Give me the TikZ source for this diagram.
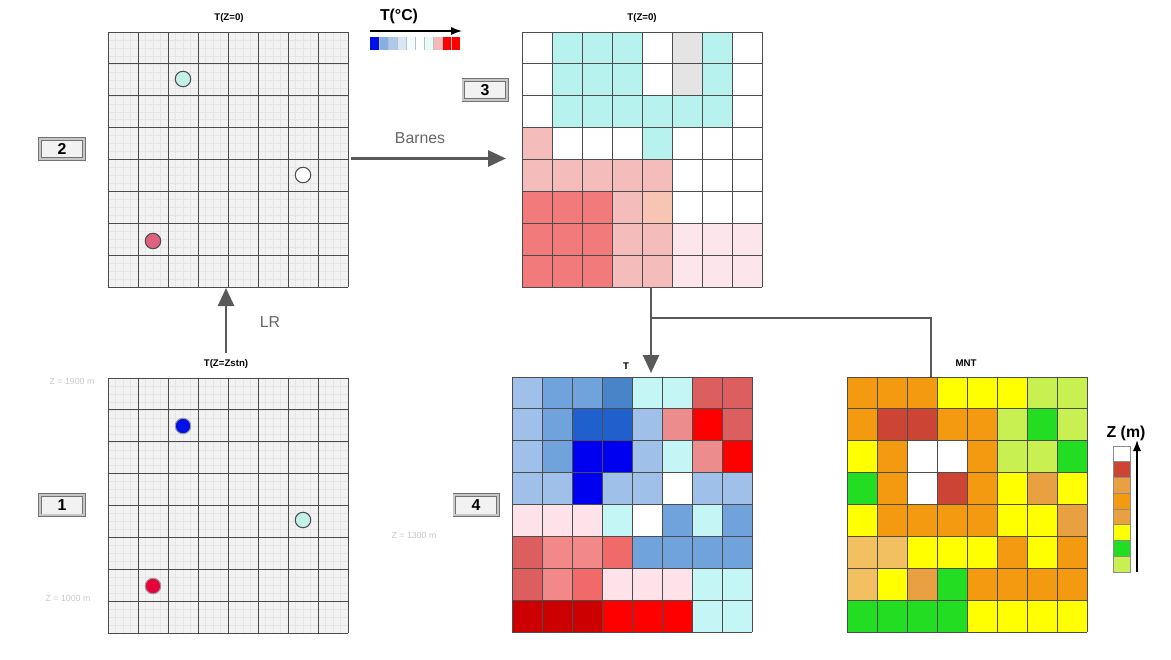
\documentclass[tikz,border=0pt]{standalone}
\usepackage{fontspec}
\setmainfont{Liberation Sans}
\usetikzlibrary{arrows.meta,calc}

% interpolated field T(Z=0)
\definecolor{tc}{HTML}{B8F2EE}
\definecolor{tg}{HTML}{E4E4E4}
\definecolor{tp}{HTML}{F5BCBC}
\definecolor{tq}{HTML}{F8C4B4}
\definecolor{tr}{HTML}{F27A7A}
\definecolor{tl}{HTML}{FCE6EC}
% field T at the DEM height
\definecolor{ka}{HTML}{9FC0E8}
\definecolor{kb}{HTML}{70A2DC}
\definecolor{kc}{HTML}{4A84C8}
\definecolor{kd}{HTML}{2060CC}
\definecolor{ke}{HTML}{0000F0}
\definecolor{kf}{HTML}{C4F6F6}
\definecolor{kg}{HTML}{DC5E5E}
\definecolor{kh}{HTML}{FF0000}
\definecolor{ki}{HTML}{EC8C8C}
\definecolor{kj}{HTML}{FDE2EA}
\definecolor{kk}{HTML}{F28888}
\definecolor{kl}{HTML}{CC0000}
\definecolor{km}{HTML}{F06A6A}
% MNT
\definecolor{mo}{HTML}{F39A10}
\definecolor{my}{HTML}{FFFF00}
\definecolor{mg}{HTML}{22DD22}
\definecolor{ml}{HTML}{C8F050}
\definecolor{md}{HTML}{CC4433}
\definecolor{mq}{HTML}{E8A040}
\definecolor{ms}{HTML}{F2C060}
% stations
\definecolor{sc}{HTML}{C4F0E6}
\definecolor{sp}{HTML}{E06080}
\definecolor{sb}{HTML}{0010E8}
\definecolor{sr}{HTML}{E8003A}

\newcommand\colgrid[2]{%
 \begin{scope}[shift={(#1.north west)}]
  \foreach \cl [count=\r from 0] in {#2}
   \foreach \k [count=\c from 0] in \cl
    \fill[\k] (\c*30,\r*31.875) rectangle ++(30,31.875);
  \foreach \i in {0,...,8}
   {\draw[cellline] (\i*30,0) -- (\i*30,255);
    \draw[cellline] (0,\i*31.875) -- (240,\i*31.875);}
 \end{scope}}

\newcommand\plaingrid[1]{%
 \begin{scope}[shift={(#1.north west)}]
  \fill[black!5] (0,0) rectangle (240,255);
  \foreach \i in {1,...,31}
   {\draw[subline] (\i*7.5,0) -- (\i*7.5,255);
    \draw[subline] (0,\i*7.96875) -- (240,\i*7.96875);}
  \foreach \i in {0,...,8}
   {\draw[cellline] (\i*30,0) -- (\i*30,255);
    \draw[cellline] (0,\i*31.875) -- (240,\i*31.875);}
 \end{scope}}

\begin{document}
\begin{tikzpicture}[x=0.2mm,y=-0.2mm,
 font=\small,
 gridbox/.style={minimum width=48mm,minimum height=51mm,inner sep=0pt,outer sep=0pt},
 cellline/.style={draw=black!70,line width=0.5pt},
 subline/.style={draw=black!10,line width=0.2pt},
 numbox/.style={draw=black!55,double=black!22,double distance=1.2pt,fill=black!5,
  minimum width=8.7mm,minimum height=4.1mm,inner sep=0pt,font=\bfseries\fontsize{9}{10}\selectfont},
 ttl/.style={font=\bfseries\fontsize{5.5}{6}\selectfont,inner sep=1pt},
 lbl/.style={text=black!60,font=\fontsize{9}{10}\selectfont},
 faint/.style={text=black!22,font=\fontsize{5}{6}\selectfont},
 stn/.style={circle,draw=black!70,line width=0.6pt,minimum size=3.1mm,inner sep=0pt},
 flow/.style={-{Triangle[length=3.6mm,width=3.2mm]},line width=1.6pt,draw=black!65},
 link/.style={line width=1.6pt,draw=black!65},
 keyarr/.style={-{Latex[length=2.2mm]},line width=0.9pt,black},
 keycell/.style={draw=black!45,line width=0.3pt}]
\useasboundingbox (0,0) rectangle (1171,659);

% grids
\node[gridbox,anchor=north west] (g2) at (108,32) {};
\node[gridbox,anchor=north west] (g1) at (108,378) {};
\node[gridbox,anchor=north west] (g3) at (522,32) {};
\node[gridbox,anchor=north west] (g4) at (512,377) {};
\node[gridbox,anchor=north west] (g5) at (847,377) {};
\plaingrid{g2}
\plaingrid{g1}
\colgrid{g3}{{white,tc,tc,tc,white,tg,tc,white},{white,tc,tc,tc,white,tg,tc,white},
 {white,tc,tc,tc,tc,tc,tc,white},{tp,white,white,white,tc,white,white,white},
 {tp,tp,tp,tp,tp,white,white,white},{tr,tr,tr,tp,tq,white,white,white},
 {tr,tr,tr,tp,tp,tl,tl,tl},{tr,tr,tr,tp,tp,tl,tl,tl}}
\colgrid{g4}{{ka,kb,kb,kc,kf,kf,kg,kg},{ka,kb,kd,kd,ka,ki,kh,kg},
 {ka,kb,ke,ke,ka,kf,ki,kh},{ka,ka,ke,ka,ka,white,ka,ka},
 {kj,kj,kj,kf,white,kb,kf,kb},{kg,kk,kk,km,kb,kb,kb,kb},
 {kg,kk,km,kj,kj,kj,kf,kf},{kl,kl,kl,kh,kh,kh,kf,kf}}
\colgrid{g5}{{mo,mo,mo,my,my,my,ml,ml},{mo,md,md,mo,mo,ml,mg,ml},
 {my,mo,white,white,mo,ml,ml,mg},{mg,mo,white,md,mo,my,mq,my},
 {my,mo,mo,mo,mo,my,my,mq},{ms,ms,my,my,my,mo,my,mo},
 {ms,my,mq,mg,mo,mo,mo,mo},{mg,mg,mg,mg,my,my,my,my}}

% titles
\node[ttl] (t2) at (229,18) {T(Z=0)};
\node[ttl] (t3) at (642,18) {T(Z=0)};
\node[ttl] (t1) at (226,364) {T(Z=Zstn)};
\node[ttl] (t4) at (626,366) {T};
\node[ttl] (t5) at (966,363) {MNT};

% step numbers
\node[numbox] (b2) at (62,149) {2};
\node[numbox] (b3) at (485,90) {3};
\node[numbox] (b1) at (62,505) {1};
\node[numbox] (b4) at (476,505) {4};

% station heights
\node[faint] (h1) at (72,381) {Z = 1900 m};
\node[faint] (h2) at (68,598) {Z = 1000 m};
\node[faint] (h3) at (414,535) {Z = 1300 m};

% stations
\node[stn,fill=sc] (s21) at (183,79) {};
\node[stn,fill=white] (s22) at (303,175) {};
\node[stn,fill=sp] (s23) at (153,241) {};
\node[stn,fill=sb,draw=black!40] (s11) at (183,426) {};
\node[stn,fill=sc] (s12) at (303,520) {};
\node[stn,fill=sr,draw=black!40] (s13) at (153,586) {};

% steps
\draw[flow] ($(g2.east)+(3,-1)$) -- ($(g3.west)+(-16,-1)$);
\node[lbl] (bar) at (420,138) {Barnes};
\draw[flow] ($(t1.north)+(0,-4)$) -- ($(t1.north |- g2.south)+(0,1)$);
\node[lbl] (lr) at (270,322) {LR};
\coordinate (J) at ($(g3.south)+(9,0)$);
\draw[flow] (J) -- ($(J |- g4.north)+(0,-4)$);
\coordinate (K) at ($(g5.north west)+(84,0)$);
\draw[link] ($(J)+(0,31)$) -| (K);

% T colour key
\coordinate (TB) at (370,37);
\foreach \k [count=\i from 0] in {sb,kb!85,ka!85,ka!40,kf!25,white,kf!40,ki!60,kh,kh}
 \fill[\k] ($(TB)+(\i*9,0)$) rectangle ++(9,13);
\foreach \i in {1,...,9}
 \draw[draw=black!25,line width=0.3pt] ($(TB)+(\i*9,0)$) -- ++(0,13);
\node[font=\bfseries\fontsize{9}{10}\selectfont] (tk) at (399,16) {T(°C)};
\draw[keyarr] ($(TB)+(0,-6)$) -- ($(TB)+(92,-6)$);

% Z colour key
\coordinate (ZB) at (1113,446);
\foreach \k [count=\i from 0] in {white,md,mq,mo,mq,my,mg,ml}
 \draw[keycell,fill=\k] ($(ZB)+(0,\i*15.75)$) rectangle ++(17,15.75);
\node[font=\bfseries\fontsize{9}{10}\selectfont] (zk) at (1126,433) {Z (m)};
\draw[keyarr] ($(ZB)+(24,126)$) -- ($(ZB)+(24,-6)$);
\end{tikzpicture}
\end{document}
